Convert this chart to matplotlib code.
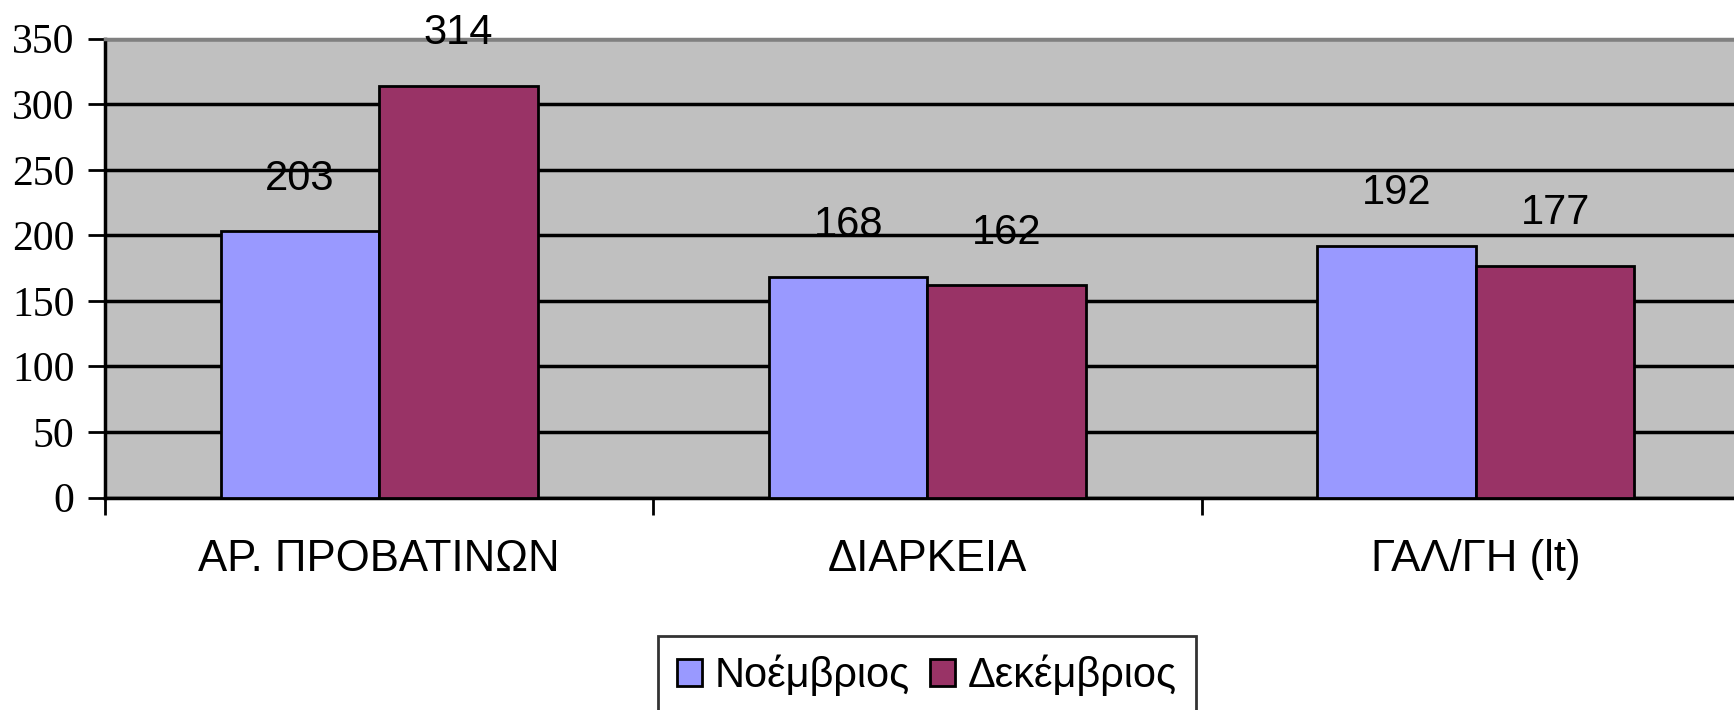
import numpy as np
import matplotlib.pyplot as plt
from matplotlib.patches import Patch

categories = ["ΑΡ. ΠΡΟΒΑΤΙΝΩΝ", "ΔΙΑΡΚΕΙΑ", "ΓΑΛ/ΓΗ (lt)"]
series_names = ["Νοέμβριος", "Δεκέμβριος"]
nov = [203, 168, 192]
dec = [314, 162, 177]
yticks = [0, 50, 100, 150, 200, 250, 300, 350]

colors = ["#9999FF", "#993366"]

fig = plt.figure(figsize=(17.34, 7.1), dpi=100)
ax = fig.add_axes([105 / 1734, 1 - 497.6 / 710, 1645 / 1734, (497.6 - 38.7) / 710])
ax.set_facecolor("#C0C0C0")

x = np.arange(len(categories))
w = 0.289
for i, (vals, col) in enumerate(zip([nov, dec], colors)):
    pos = x + (i - 0.5) * w
    ax.bar(pos, vals, width=w, color=col, edgecolor="black", linewidth=2, zorder=3)
    for p, v in zip(pos, vals):
        ax.text(p, v + 40, str(v), ha="center", va="center", fontsize=30,
                family="Liberation Sans", zorder=4)

ax.set_xlim(-0.5, 2.5)
ax.set_ylim(0, 350)
ax.set_yticks(yticks)
ax.set_yticklabels([str(t) for t in yticks], family="Liberation Serif", fontsize=30)
ax.yaxis.grid(True, color="black", linewidth=2.5, zorder=1)
ax.set_axisbelow(True)

ax.set_xticks([-0.5, 0.5, 1.5, 2.5])
ax.set_xticklabels([])
ax.set_xticks(x, minor=True)
ax.set_xticklabels(categories, minor=True, family="Liberation Sans", fontsize=31.5)
ax.tick_params(axis="x", which="minor", length=0, pad=30)
ax.tick_params(axis="x", which="major", length=12, width=2, direction="out")
ax.tick_params(axis="y", length=12, width=2, direction="out", pad=10)

for s in ["left", "bottom"]:
    ax.spines[s].set_linewidth(2.5)
    ax.spines[s].set_color("black")
ax.spines["top"].set_color("#808080")
ax.spines["top"].set_linewidth(2.5)
ax.spines["right"].set_visible(False)

handles = [Patch(facecolor=c, edgecolor="black", linewidth=2) for c in colors]
leg = fig.legend(handles, series_names, loc="upper center",
                 bbox_to_anchor=(927 / 1734, 1 - 636 / 710), ncol=2,
                 prop={"family": "Liberation Sans", "size": 30},
                 frameon=True, fancybox=False, edgecolor="black",
                 handlelength=0.6, handleheight=0.6, handletextpad=0.3,
                 columnspacing=0.5, borderpad=0.45, borderaxespad=0)
leg.get_frame().set_linewidth(2)

fig.savefig("out.png", dpi=100)
